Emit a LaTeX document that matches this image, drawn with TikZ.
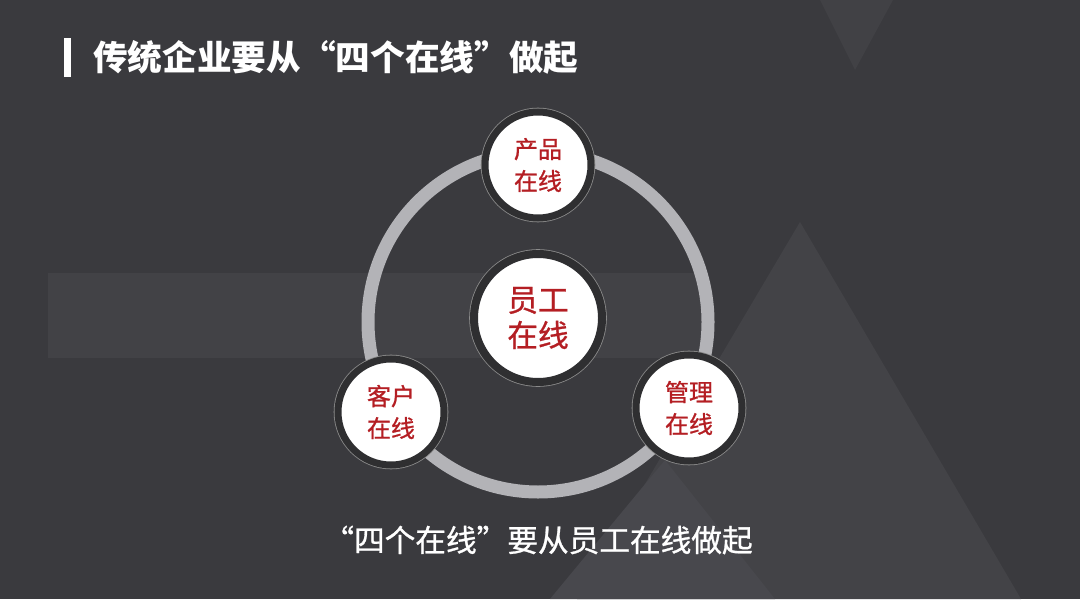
\documentclass[tikz,border=0pt]{standalone}
\usepackage{fontspec}
\newfontfamily\cjk{Noto Sans CJK SC}
\newfontfamily\cjkm[FakeBold=0.9]{Noto Sans CJK SC}
\definecolor{bgc}{HTML}{3A3A3E}
\definecolor{bandc}{HTML}{424246}
\definecolor{topc}{HTML}{414145}
\definecolor{trib}{HTML}{434347}
\definecolor{tris}{HTML}{48484D}
\definecolor{ringg}{HTML}{B3B3B7}
\definecolor{ringd}{HTML}{2F2F31}
\definecolor{outl}{HTML}{8C8C8C}
\definecolor{redt}{HTML}{B41E23}
\begin{document}
\begin{tikzpicture}[x=0.75pt,y=-0.75pt,
  bubble/.style={circle,inner sep=0pt,fill=white,draw=ringd,text=redt,align=center,
    preaction={draw=outl,line width=#1+1.2pt}},
  smallnode/.style={bubble=5.25pt,line width=5.25pt,minimum size=79.5pt,
    font=\cjkm\fontsize{18pt}{24pt}\selectfont},
  bignode/.style={bubble=6pt,line width=6pt,minimum size=96pt,
    font=\cjkm\fontsize{23pt}{26.5pt}\selectfont}]
\useasboundingbox (0,0) rectangle (1080,599);
\fill[bgc] (0,0) rectangle (1080,599);
% background shapes
\fill[bandc] (48,273) rectangle (706,358);
\fill[topc] (820,0) -- (893,0) -- (855,70) -- cycle;
\fill[trib] (800,222) -- (577,599) -- (1021,599) -- cycle;
\fill[tris] (665,460) -- (550,599) -- (775,599) -- cycle;
% title
\fill[white] (64,38) rectangle (71,77);
\node[anchor=west,inner sep=0pt,text=white,font=\cjk\bfseries\fontsize{26pt}{30pt}\selectfont] (title) at (93,57) {传统企业要从“四个在线”做起};
% ring
\coordinate (rc) at (538,322);
\draw[ringg,line width=9.75pt] (rc) circle (127.5pt);
% nodes
\node[bignode] (staff) at (538,318) {员工\\在线};
\node[smallnode] (product) at (538,165) {产品\\在线};
\node[smallnode] (customer) at (391,412) {客户\\在线};
\node[smallnode] (manage) at (689,408) {管理\\在线};
% bottom text
\node[inner sep=0pt,text=white,font=\cjkm\fontsize{23pt}{28pt}\selectfont] (caption) at (538,540) {“四个在线”要从员工在线做起};
\end{tikzpicture}
\end{document}
